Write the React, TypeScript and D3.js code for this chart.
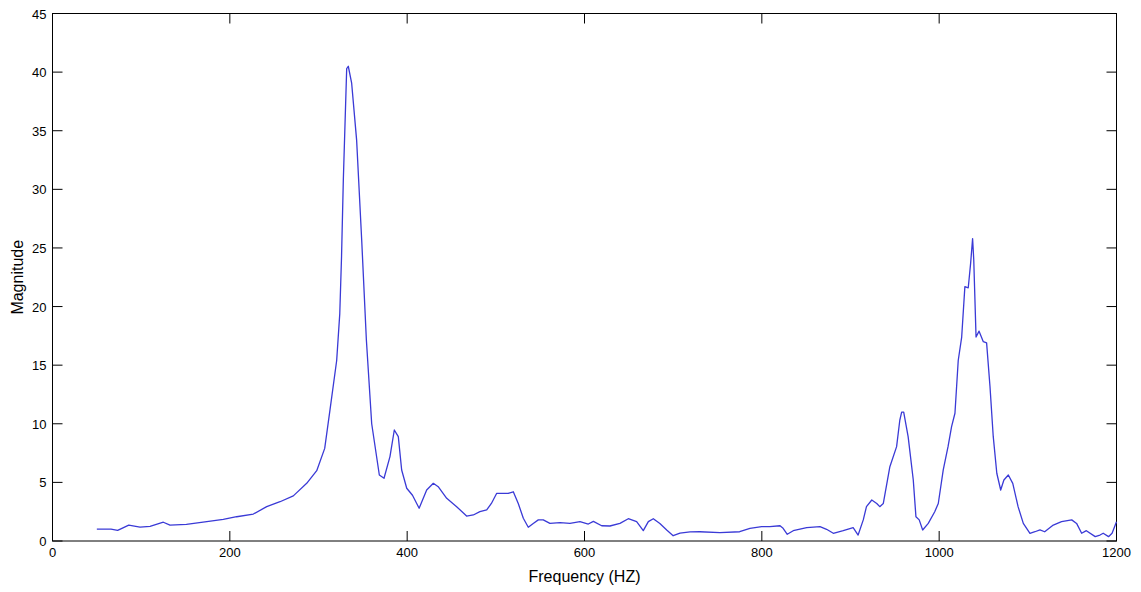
import React, { useEffect, useRef } from "react";
import * as d3 from "d3";

// frequency (Hz) and magnitude
const freqs = [
  50, 66, 73.5, 86, 98.7, 110, 125, 132.5, 151, 174, 192.6, 207.7, 226.5, 241.6, 256.6,
  271.6, 286.7, 298, 307, 313, 320.5, 324, 326, 328, 331.8, 333.6, 337.4, 343, 348.7,
  354, 360, 368.6, 373.9, 380.6, 385.5, 390, 393.8, 399.5, 406, 413.5, 422, 429.5, 435,
  444.6, 455.8, 467, 474.6, 482, 489.7, 495, 501, 508.4, 514, 519.7, 525.3, 531, 536.6,
  542.2, 547.9, 553.5, 561, 572.4, 583.6, 594.9, 604.3, 610, 619.4, 628.7, 640, 649.4,
  658.8, 666.3, 672, 677.6, 685, 692.7, 700, 707.7, 719, 730, 752.8, 775, 786.6, 799.8,
  809, 820.5, 824, 828.7, 835.4, 850.6, 865.6, 873, 880.6, 891.8, 903, 908.6, 914.4, 918,
  924, 929.6, 933, 937, 944.4, 952, 955.6, 957.7, 960, 965, 970.8, 973.8, 977.5, 981.4,
  987.7, 995, 999, 1004.6, 1010, 1014, 1017.8, 1021.5, 1025.4, 1029, 1032.8, 1035.5,
  1037.7, 1039, 1041.6, 1045, 1049.8, 1053.5, 1057.3, 1061, 1065, 1069.4, 1073, 1078,
  1083, 1089, 1094.9, 1102.4, 1108, 1113.7, 1119, 1128.7, 1138, 1149.5, 1155, 1160.7,
  1166, 1176, 1181.4, 1185, 1191, 1195, 1200,
];
const mags = [
  1.02, 1.02, 0.91, 1.36, 1.19, 1.25, 1.6, 1.36, 1.42, 1.65, 1.85, 2.07, 2.3, 2.93, 3.35,
  3.85, 4.92, 6.0, 7.9, 11.2, 15.4, 19.4, 24.3, 30.8, 40.3, 40.5, 39.05, 34.2, 25.7,
  17.15, 10.0, 5.63, 5.35, 7.2, 9.47, 8.9, 6.06, 4.5, 3.9, 2.79, 4.35, 4.92, 4.63,
  3.64, 2.93, 2.13, 2.22, 2.5, 2.65, 3.2, 4.07, 4.07, 4.07, 4.2, 3.2, 1.94, 1.17,
  1.5, 1.8, 1.8, 1.5, 1.56, 1.5, 1.65, 1.45, 1.68, 1.3, 1.28, 1.5, 1.9,
  1.65, 0.88, 1.65, 1.9, 1.5, 0.94, 0.45, 0.68, 0.77, 0.79, 0.71, 0.79, 1.08, 1.22,
  1.22, 1.3, 1.08, 0.57, 0.88, 1.14, 1.22, 1.0, 0.66, 0.88, 1.14, 0.51, 1.8, 2.93,
  3.5, 3.2, 2.93, 3.2, 6.34, 8.05, 10.3, 11.0, 11.0, 8.9, 5.2, 2.07, 1.8, 0.94,
  1.5, 2.5, 3.2, 6.06, 8.05, 9.75, 10.9, 15.4, 17.4, 21.7, 21.6, 23.7,
  25.8, 24.0, 17.4, 17.9, 17.0, 16.9, 13.2, 8.9, 5.78, 4.35, 5.2, 5.63,
  4.92, 2.93, 1.5, 0.66, 0.79, 0.94, 0.79, 1.36, 1.65, 1.8, 1.5, 0.66,
  0.88, 0.37, 0.51, 0.66, 0.37, 0.66, 1.65,
];
const xTicks = [0, 200, 400, 600, 800, 1000, 1200];
const yTicks = [0, 5, 10, 15, 20, 25, 30, 35, 40, 45];

const W = 1141;
const H = 592;
const margin = { left: 52.5, right: 24.5, top: 13.5, bottom: 51 };

export default function App() {
  const ref = useRef<SVGSVGElement>(null);

  useEffect(() => {
    const svg = d3.select(ref.current);
    svg.selectAll("*").remove();

    const x = d3.scaleLinear().domain([0, 1200]).range([margin.left, W - margin.right]);
    const y = d3.scaleLinear().domain([0, 45]).range([H - margin.bottom, margin.top]);
    const font = "Arial, 'Liberation Sans', sans-serif";
    const tk = 10;

    const g = svg.append("g");

    // box
    g.append("rect")
      .attr("x", x(0))
      .attr("y", y(45))
      .attr("width", x(1200) - x(0))
      .attr("height", y(0) - y(45))
      .attr("fill", "white")
      .attr("stroke", "#000")
      .attr("stroke-width", 1);

    // inward ticks, bottom/top/left/right
    xTicks.forEach((t) => {
      g.append("line").attr("x1", x(t)).attr("x2", x(t)).attr("y1", y(0)).attr("y2", y(0) - tk).attr("stroke", "#000");
      g.append("line").attr("x1", x(t)).attr("x2", x(t)).attr("y1", y(45)).attr("y2", y(45) + tk).attr("stroke", "#000");
      g.append("text")
        .attr("x", x(t))
        .attr("y", y(0) + 16)
        .attr("text-anchor", "middle")
        .attr("font-family", font)
        .attr("font-size", 13)
        .attr("fill", "#000")
        .text(t);
    });
    yTicks.forEach((t) => {
      g.append("line").attr("x1", x(0)).attr("x2", x(0) + tk).attr("y1", y(t)).attr("y2", y(t)).attr("stroke", "#000");
      g.append("line").attr("x1", x(1200)).attr("x2", x(1200) - tk).attr("y1", y(t)).attr("y2", y(t)).attr("stroke", "#000");
      g.append("text")
        .attr("x", x(0) - 6)
        .attr("y", y(t) + 5)
        .attr("text-anchor", "end")
        .attr("font-family", font)
        .attr("font-size", 13)
        .attr("fill", "#000")
        .text(t);
    });

    const line = d3
      .line<number>()
      .x((d, i) => x(freqs[i]))
      .y((d) => y(d));

    g.append("path")
      .datum(mags)
      .attr("d", line)
      .attr("fill", "none")
      .attr("stroke", "#3a3ad6")
      .attr("stroke-width", 1.3)
      .attr("stroke-linejoin", "round");

    g.append("text")
      .attr("x", (x(0) + x(1200)) / 2)
      .attr("y", 582)
      .attr("text-anchor", "middle")
      .attr("font-family", font)
      .attr("font-size", 16)
      .attr("fill", "#000")
      .text("Frequency (HZ)");

    g.append("text")
      .attr("transform", `translate(23, ${(y(0) + y(45)) / 2}) rotate(-90)`)
      .attr("text-anchor", "middle")
      .attr("font-family", font)
      .attr("font-size", 16)
      .attr("fill", "#000")
      .text("Magnitude");
  }, []);

  return (
    <svg
      ref={ref}
      width={W}
      height={H}
      style={{ position: "absolute", left: 0, top: 0, background: "white" }}
    ></svg>
  );
}
